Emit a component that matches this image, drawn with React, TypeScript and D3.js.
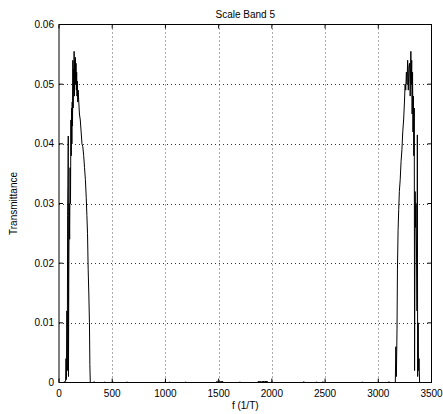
import React from 'react';
import * as d3 from 'd3';

// spectrum samples
const freq = [
  0, 40, 62, 66, 70, 74, 78, 81, 84, 87, 89, 92, 96, 100, 104, 108, 112, 115, 118, 121,
  124, 127, 130, 133, 136, 139, 142, 145, 148, 151, 154, 157, 160, 163, 166, 169, 172, 176,
  180, 186, 192, 200, 208, 216, 224, 232, 240, 248, 256, 262, 268, 274, 280, 286, 290, 294,
  300, 327, 330, 333, 427, 430, 433, 502, 505, 508, 637, 640, 643, 997, 1000, 1003, 1037,
  1040, 1043, 1187, 1190, 1193, 1477, 1480, 1490, 1500, 1510, 1520, 1530, 1540, 1543, 1697,
  1700, 1703, 1867, 1870, 1900, 1930, 1960, 1963, 1997, 2000, 2003, 2297, 2300, 2303, 2417,
  2420, 2423, 2477, 2480, 2483, 2847, 2850, 2853, 2997, 3000, 3003, 3097, 3100, 3103,
  3160, 3165, 3170, 3176, 3180, 3186, 3192, 3198, 3206, 3214, 3222, 3230, 3238, 3246, 3252,
  3258, 3264, 3270, 3276, 3282, 3288, 3294, 3300, 3306, 3310, 3314, 3318, 3322, 3326, 3330,
  3334, 3338, 3341, 3346, 3350, 3355, 3360, 3364, 3367, 3370, 3375, 3378, 3383, 3388, 3420, 3472,
];
const transmittance = [
  0, 0, 0.0002, 0.004, 0.0005, 0.012, 0.002, 0.028, 0.033, 0.0413, 0.001, 0.018, 0.03, 0.024,
  0.036, 0.03, 0.044, 0.038, 0.046, 0.04, 0.047, 0.043, 0.054, 0.046, 0.0525, 0.049, 0.0555,
  0.048, 0.054, 0.051, 0.0545, 0.05, 0.0535, 0.049, 0.052, 0.048, 0.0505, 0.047, 0.049, 0.047,
  0.045, 0.044, 0.042, 0.04, 0.0395, 0.038, 0.036, 0.034, 0.031, 0.028, 0.025, 0.019, 0.015,
  0.01, 0.003, 0,
  0, 0, 0.00015, 0, 0, 0.00012, 0, 0, 0.00015, 0, 0, 0.00012, 0, 0, 0.00018, 0, 0,
  0.00012, 0, 0, 0.00012, 0, 0, 0.00015, 0.0002, 0.00015, 0.0002, 0.00012, 0.00018, 0.00015,
  0, 0, 0.00012, 0, 0, 0.00015, 0.00012, 0.00018, 0.00015, 0, 0, 0.00015, 0, 0, 0.00015, 0,
  0, 0.00012, 0, 0, 0.00015, 0, 0, 0.00012, 0, 0, 0.00012, 0, 0, 0.00015, 0,
  0, 0.006, 0.001, 0.009, 0.019, 0.0255, 0.029, 0.032, 0.034, 0.037, 0.039, 0.042, 0.044,
  0.047, 0.05, 0.049, 0.052, 0.05, 0.054, 0.049, 0.053, 0.0535, 0.048, 0.0555, 0.05, 0.054,
  0.045, 0.052, 0.042, 0.048, 0.038, 0.046, 0.002, 0.032, 0.026, 0.03, 0.02, 0.012, 0.0415,
  0.001, 0.01, 0.002, 0.004, 0, 0, 0,
];
const xTicks = [0, 500, 1000, 1500, 2000, 2500, 3000, 3500];
const yTicks = [0, 0.01, 0.02, 0.03, 0.04, 0.05, 0.06];

export default function App() {
  const width = 443;
  const height = 414;
  const margin = { top: 24.5, right: 11.5, bottom: 31.5, left: 59 };
  const font = '"Liberation Sans", Arial, sans-serif';

  const x = d3.scaleLinear().domain([0, 3500]).range([margin.left, width - margin.right]);
  const y = d3.scaleLinear().domain([0, 0.06]).range([height - margin.bottom, margin.top]);

  const points: [number, number][] = freq.map((f, i) => [f, transmittance[i]]);
  const line = d3.line<[number, number]>()
    .x(d => x(d[0]))
    .y(d => y(d[1]));

  const x0 = x(0), x1 = x(3500), y0 = y(0), y1 = y(0.06);
  const tick = 4;

  return (
    <svg width={width} height={height} style={{ position: 'absolute', left: 0, top: 0, background: '#fff' }}>
      <rect x={0} y={0} width={width} height={height} fill="#fff" />
      {/* grid */}
      {xTicks.slice(1, -1).map(t => (
        <line key={'gx' + t} x1={Math.round(x(t)) + 0.5} x2={Math.round(x(t)) + 0.5} y1={y1} y2={y0}
          stroke="#555" strokeDasharray="1,3" />
      ))}
      {yTicks.slice(1, -1).map(t => (
        <line key={'gy' + t} y1={Math.round(y(t)) + 0.5} y2={Math.round(y(t)) + 0.5} x1={x0} x2={x1}
          stroke="#333" strokeDasharray="1,3" />
      ))}
      {/* data */}
      <path d={line(points) || ''} fill="none" stroke="#000" strokeWidth={1} />
      {/* box */}
      <rect x={x0} y={y1} width={x1 - x0} height={y0 - y1} fill="none" stroke="#000" strokeWidth={1} />
      {/* ticks */}
      {xTicks.map(t => (
        <g key={'tx' + t}>
          <line x1={x(t)} x2={x(t)} y1={y0} y2={y0 - tick} stroke="#000" />
          <line x1={x(t)} x2={x(t)} y1={y1} y2={y1 + tick} stroke="#000" />
          <text x={x(t)} y={y0 + 14} textAnchor="middle" fontFamily={font} fontSize={10}>{t}</text>
        </g>
      ))}
      {yTicks.map(t => (
        <g key={'ty' + t}>
          <line x1={x0} x2={x0 + tick} y1={y(t)} y2={y(t)} stroke="#000" />
          <line x1={x1} x2={x1 - tick} y1={y(t)} y2={y(t)} stroke="#000" />
          <text x={x0 - 5} y={y(t) + 3.5} textAnchor="end" fontFamily={font} fontSize={10}>{t === 0 ? '0' : t.toFixed(2)}</text>
        </g>
      ))}
      <text x={(x0 + x1) / 2} y={18} textAnchor="middle" fontFamily={font} fontSize={10}>Scale Band 5</text>
      <text x={(x0 + x1) / 2} y={409} textAnchor="middle" fontFamily={font} fontSize={10}>f (1/T)</text>
      <text transform={`translate(17, ${(y0 + y1) / 2}) rotate(-90)`} textAnchor="middle" fontFamily={font} fontSize={10}>Transmittance</text>
    </svg>
  );
}
